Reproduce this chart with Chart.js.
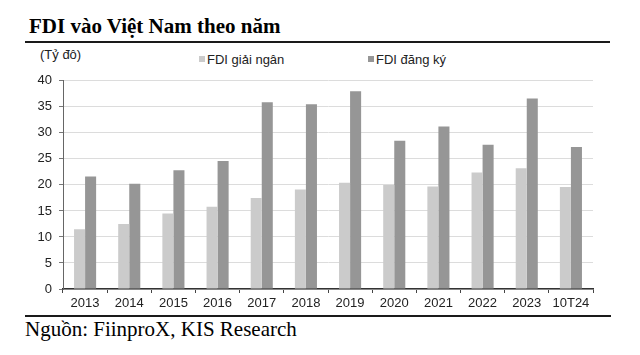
<!DOCTYPE html>
<html>
<head>
<meta charset="utf-8">
<script src="https://cdn.jsdelivr.net/npm/chart.js@4/dist/chart.umd.min.js"></script>
<style>
  html, body { margin: 0; padding: 0; background: #fff; }
  #wrap { position: relative; width: 640px; height: 355px; overflow: hidden; }
  .abs { position: absolute; white-space: nowrap; }
  #title { left: 29px; top: 16px; font: bold 21px/21px "Liberation Serif", "Times New Roman", serif; color: #000; }
  #topline { left: 25px; top: 41px; width: 585px; height: 2px; background: #1a1a1a; }
  #unit { left: 40px; top: 48px; font: 13px/13px "Liberation Sans", Arial, sans-serif; color: #222; }
  .leg { top: 53px; font: 13px/13px "Liberation Sans", Arial, sans-serif; color: #222; }
  .legbox { display: inline-block; width: 6px; height: 6px; vertical-align: 2px; margin-right: 2px; }
  #botline { left: 25px; top: 315px; width: 586px; height: 1.5px; background: #1a1a1a; }
  #source { left: 25px; top: 319px; font: 21px/21px "Liberation Serif", "Times New Roman", serif; color: #000; }
  #chartBox { position: absolute; left: 0; top: 66px; width: 620px; height: 249px; }
</style>
</head>
<body>
<div id="wrap">
  <div id="title" class="abs">FDI vào Việt Nam theo năm</div>
  <div id="topline" class="abs"></div>
  <div id="unit" class="abs">(Tỷ đô)</div>
  <div id="leg1" class="abs leg" style="left:199px"></div>
  <div id="leg2" class="abs leg" style="left:368px"></div>
  <div id="chartBox"><canvas id="c" width="620" height="249"></canvas></div>
  <div id="botline" class="abs"></div>
  <div id="source" class="abs">Nguồn: FiinproX, KIS Research</div>
</div>
<script>
const categories = ["2013","2014","2015","2016","2017","2018","2019","2020","2021","2022","2023","10T24"];
const disbursed = [11.5, 12.5, 14.5, 15.8, 17.5, 19.1, 20.4, 20.0, 19.7, 22.4, 23.2, 19.6];
const registered = [21.6, 20.2, 22.8, 24.6, 35.9, 35.5, 38.0, 28.5, 31.2, 27.7, 36.6, 27.3];
const seriesNames = ["FDI giải ngân", "FDI đăng ký"];
const seriesColors = ["#cbcbcb", "#969696"];
const yTicks = [0, 5, 10, 15, 20, 25, 30, 35, 40];

// legend from series arrays
["leg1","leg2"].forEach((id, i) => {
  const el = document.getElementById(id);
  const b = document.createElement('span');
  b.className = 'legbox';
  b.style.background = seriesColors[i];
  el.appendChild(b);
  el.appendChild(document.createTextNode(seriesNames[i]));
});

const font = { family: "'Liberation Sans', Arial, sans-serif", size: 13 };

new Chart(document.getElementById('c'), {
  type: 'bar',
  data: {
    labels: categories,
    datasets: [
      { label: seriesNames[0], data: disbursed, backgroundColor: seriesColors[0], borderWidth: 0 },
      { label: seriesNames[1], data: registered, backgroundColor: seriesColors[1], borderWidth: 0 }
    ]
  },
  options: {
    responsive: false,
    animation: false,
    devicePixelRatio: 1,
    layout: { padding: { top: 12, right: 27, left: 0, bottom: 0 } },
    plugins: { legend: { display: false }, tooltip: { enabled: false } },
    datasets: { bar: { categoryPercentage: 0.5, barPercentage: 1.0 } },
    scales: {
      x: {
        grid: { display: true, drawOnChartArea: false, offset: true, tickLength: 4, tickColor: '#444', color: '#444' },
        border: { color: '#333', width: 1.5 },
        ticks: { color: '#222', font: font, padding: 3, maxRotation: 0, autoSkip: false },
        afterFit: (s) => { s.height = 26; }
      },
      y: {
        min: 0, max: 40,
        afterBuildTicks: (s) => { s.ticks = yTicks.map(v => ({ value: v })); },
        grid: { color: '#dcdcdc', lineWidth: 1, tickLength: 4, tickColor: '#777' },
        border: { color: '#666', width: 1 },
        ticks: { color: '#222', font: font, padding: 7 },
        afterFit: (s) => { s.width = 63; }
      }
    }
  }
});
</script>
</body>
</html>
